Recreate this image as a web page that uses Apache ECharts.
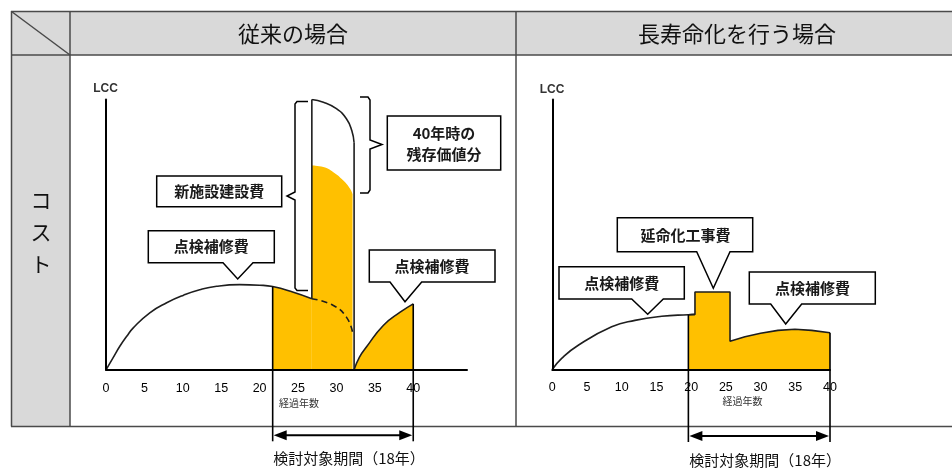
<!DOCTYPE html>
<html><head><meta charset="utf-8">
<script src="https://cdn.jsdelivr.net/npm/echarts@6/dist/echarts.min.js"></script>
<style>html,body{margin:0;padding:0;background:#fff}#main{width:952px;height:468px}</style>
</head><body><div id="main"></div>
<script>
// ---- data (x = 経過年数, y = LCC, schematic units 0-100) ----
const xTicks = [0, 5, 10, 15, 20, 25, 30, 35, 40];
const panelTitles = ['従来の場合', '長寿命化を行う場合'];
const rowTitle = 'コスト';
const axisNameY = 'LCC';
const axisNameX = '経過年数';
const periodLabel = '検討対象期間（18年）';

// 従来の場合
const convMaint1 = [[0,0],[0.95,4.6],[1.8,8.7],[2.7,12.4],[3.55,15.5],[5.7,21.1],[7.9,24.8],[10.1,27.6],[12.2,29.6],[14.4,30.9],[17.4,31.5],[20,31.3],[21.7,30.8],[24.3,28.8],[26.8,26.3]];
const convMaintHidden = [[26.8,26.3],[29.6,23.8],[31.3,19.5],[32.1,13.9]];
const convRenewalRemain = [[26.8,75.6],[28.3,75.0],[29.6,73.1],[30.9,70.0],[31.8,66.9],[32.1,65.0]];
const convRenewalTotal = [[26.8,100],[28.3,99],[30,96.6],[31.3,92.9],[32,88.5],[32.3,84]];
const convMaint2 = [[32.3,0],[33,4.7],[33.9,8.4],[36.1,16.4],[38.3,21.3],[40,24.4]];
const convPeriod = [21.7, 40];

// 長寿命化を行う場合
const extMaint1 = [[0,0],[1.35,4.1],[3.74,9.0],[8.55,15.8],[11.9,18.2],[15.75,19.7],[19.6,20.3],[20.55,20.4]];
const extWork = [[20.55,28.7],[25.6,28.7]];
const extMaint2 = [[25.6,10.5],[27.75,12.1],[30,13.4],[32.5,14.5],[34.95,14.9],[37.35,14.5],[40,13.6]];
const extPeriod = [19.6, 40];

const labels = {
  newBuild: '新施設建設費',
  residual: '40年時の\n残存価値分',
  maint: '点検補修費',
  extend: '延命化工事費'
};

// ---- chart ----
const YEL = '#FFC000', INK = '#1e1e1e';
const CJK = '"Noto Sans CJK JP","Noto Sans",sans-serif';
const chart = echarts.init(document.getElementById('main'));

const xAx = (g, max) => ({
  type: 'value', gridIndex: g, min: 0, max: max, interval: 5, z: 10,
  axisLine: { show: true, onZero: false, lineStyle: { color: '#000', width: 2 } },
  axisTick: { show: false }, splitLine: { show: false },
  axisLabel: { margin: 12, fontSize: 12.5, color: '#000', fontFamily: 'Liberation Sans, Arial',
    formatter: v => xTicks.includes(v) ? String(v) : '' }
});
const yAx = g => ({
  type: 'value', gridIndex: g, min: 0, max: 100, z: 10,
  axisLine: { show: true, onZero: false, lineStyle: { color: '#000', width: 2 } },
  axisTick: { show: false }, splitLine: { show: false }, axisLabel: { show: false }
});
const ln = (g, data, o) => Object.assign({
  type: 'line', xAxisIndex: g, yAxisIndex: g, data: data, symbol: 'none', silent: true,
  animation: false, lineStyle: { color: INK, width: 1.6 }
}, o || {});

const convFill = convMaint1.filter(p => p[0] >= convPeriod[0]);
const convLeftEdge = [convMaint1[convMaint1.length - 1], convRenewalTotal[0]];
const lastTot = convRenewalTotal[convRenewalTotal.length - 1];
const convRightEdge = [lastTot, [lastTot[0], 0]];
const extFill = extMaint1.filter(p => p[0] >= extPeriod[0]).concat(extWork, extMaint2);

chart.setOption({
  animation: false,
  grid: [
    { left: 106, top: 99.5, width: 361, height: 270.3 },
    { left: 552.3, top: 99.5, width: 277.7, height: 270 }
  ],
  xAxis: [xAx(0, 47), xAx(1, 40)],
  yAxis: [yAx(0), yAx(1)],
  series: [
    ln(0, convFill, { smooth: 0.5, z: 1, lineStyle: { width: 0 }, areaStyle: { color: YEL, opacity: 1 } }),
    ln(0, convRenewalRemain, { smooth: 0.5, z: 1, lineStyle: { width: 0 }, areaStyle: { color: YEL, opacity: 1 } }),
    ln(0, convMaint2, { smooth: 0.5, z: 2, areaStyle: { color: YEL, opacity: 1 } }),
    ln(0, convMaint1, { smooth: 0.5, z: 3 }),
    ln(0, convMaintHidden, { smooth: 0.5, z: 3, lineStyle: { color: INK, width: 1.6, type: [6, 4] } }),
    ln(0, convRenewalTotal, { smooth: 0.5, z: 3 }),
    ln(0, convLeftEdge, { z: 3 }),
    ln(0, convRightEdge, { z: 3 }),
    ln(1, extFill, { z: 2, areaStyle: { color: YEL, opacity: 1 } }),
    ln(1, extMaint1, { smooth: 0.5, z: 3 })
  ]
});

// ---- annotations ----
const px = (g, pt) => chart.convertToPixel({ gridIndex: g }, pt);
const G = [];
const LINE = '#4a4a4a';
// table
G.push({ type: 'rect', shape: { x: 11, y: 11, width: 941, height: 44 }, style: { fill: '#d9d9d9' }, z: 0 });
G.push({ type: 'rect', shape: { x: 11, y: 55, width: 59, height: 371.5 }, style: { fill: '#d9d9d9' }, z: 0 });
const tl = (x1, y1, x2, y2) => G.push({ type: 'line', shape: { x1, y1, x2, y2 }, style: { stroke: LINE, lineWidth: 1.5 }, z: 1 });
tl(11, 11.5, 952, 11.5); tl(11, 55, 952, 55); tl(11, 426.5, 952, 426.5);
tl(11.5, 11, 11.5, 426.5); tl(70, 11, 70, 426.5); tl(516, 11, 516, 426.5);
tl(11.5, 11.5, 70, 55);
const txt = (text, x, y, size, extra) => G.push({ type: 'text', z: 120,
  style: Object.assign({ text, x, y, align: 'center', verticalAlign: 'middle', fill: '#111',
    fontSize: size, fontFamily: CJK }, extra || {}) });
txt(panelTitles[0], 293, 34, 22);
txt(panelTitles[1], 737, 34, 22);
txt(rowTitle.split('').join('\n'), 41, 232, 21, { lineHeight: 32 });
txt(axisNameY, 105.5, 89, 12, { fontFamily: 'Liberation Sans, Arial', fontWeight: 'bold', fill: '#333' });
txt(axisNameY, 552, 90, 12, { fontFamily: 'Liberation Sans, Arial', fontWeight: 'bold', fill: '#333' });
txt(axisNameX, 299, 403, 10, { fill: '#333' });
txt(axisNameX, 742.5, 401.5, 10, { fill: '#333' });

// callouts
function callout(x1, y1, x2, y2, ptr, text, cx, cy) {
  const pts = ptr
    ? [[x1, y1], [x2, y1], [x2, y2], [ptr[1], y2], [ptr[2], ptr[3]], [ptr[0], y2], [x1, y2]]
    : [[x1, y1], [x2, y1], [x2, y2], [x1, y2]];
  G.push({ type: 'polygon', shape: { points: pts }, style: { fill: '#fff', stroke: '#000', lineWidth: 1.5 }, z: 100 });
  txt(text, cx, cy, 15, { lineHeight: 21, fontWeight: 'bold', fill: '#1a1a1a' });
}
callout(156.7, 176, 281.7, 206.7, null, labels.newBuild, 219.2, 191.5);
callout(387.3, 116, 500.7, 170, null, labels.residual, 444, 144);
callout(148.3, 230.7, 274.3, 262.7, [223, 253, 237.7, 279], labels.maint, 211.3, 246.7);
callout(369.3, 250, 495, 282, [390, 421.7, 405, 301.7], labels.maint, 432, 266.5);
callout(617.3, 217.7, 752.7, 251.7, [696.7, 730, 713.3, 288.3], labels.extend, 685.5, 235);
callout(559, 266.7, 684.3, 299, [631.7, 663.3, 647.7, 314.3], labels.maint, 621.7, 283);
callout(749.3, 272, 875.3, 304, [770.7, 801.7, 785.7, 324], labels.maint, 812.5, 288.5);

// braces
const brace = pts => G.push({ type: 'polyline', shape: { points: pts }, style: { stroke: '#000', lineWidth: 1.5, fill: null }, z: 100 });
brace([[308, 101.5], [297, 101.5], [295, 104], [295, 192], [287, 196], [295, 200], [295, 288], [297, 290.5], [308, 290.5]]);
brace([[360, 97], [368, 97], [370, 100], [370, 140], [382, 144.5], [370, 149], [370, 190], [368, 193], [360, 193]]);

// period markers & arrows
function period(g, startPt, endPt, ay, ty) {
  const a = px(g, startPt), b = px(g, endPt);
  const bottom = ay + 6;
  G.push({ type: 'line', shape: { x1: a[0], y1: a[1], x2: a[0], y2: bottom }, style: { stroke: '#000', lineWidth: 1.6 }, z: 50 });
  G.push({ type: 'line', shape: { x1: b[0], y1: b[1], x2: b[0], y2: bottom }, style: { stroke: '#000', lineWidth: 1.6 }, z: 50 });
  G.push({ type: 'line', shape: { x1: a[0] + 8, y1: ay, x2: b[0] - 8, y2: ay }, style: { stroke: '#000', lineWidth: 2 }, z: 50 });
  G.push({ type: 'polygon', shape: { points: [[a[0] + 1, ay], [a[0] + 14, ay - 5], [a[0] + 14, ay + 5]] }, style: { fill: '#000' }, z: 50 });
  G.push({ type: 'polygon', shape: { points: [[b[0] - 1, ay], [b[0] - 14, ay - 5], [b[0] - 14, ay + 5]] }, style: { fill: '#000' }, z: 50 });
  txt(periodLabel, (a[0] + b[0]) / 2 + 6, ty, 15);
}
period(0, convFill[0], convMaint2[convMaint2.length - 1], 435.3, 458);
period(1, extFill[0], extMaint2[extMaint2.length - 1], 436, 460);

chart.setOption({ graphic: { elements: G } });
</script></body></html>
